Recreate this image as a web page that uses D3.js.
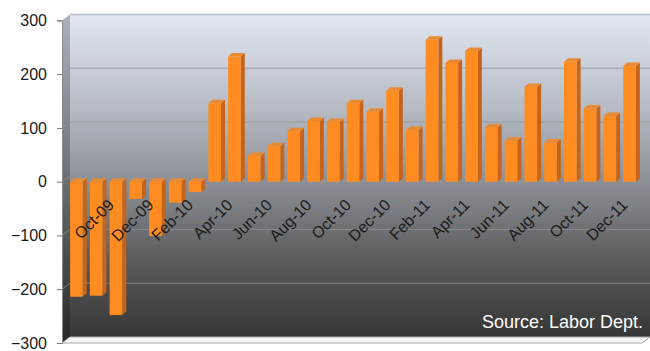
<!DOCTYPE html>
<html>
<head>
<meta charset="utf-8">
<script src="https://cdn.jsdelivr.net/npm/d3@7"></script>
<style>
  body { margin: 0; background: white; }
  svg { display: block; font-family: "Liberation Sans", Arial, sans-serif; }
</style>
</head>
<body>
<div id="chart"></div>
<script>
// monthly job change (thousands), Aug-09 .. Dec-11
const months = ["Aug-09", "Sep-09", "Oct-09", "Nov-09", "Dec-09", "Jan-10", "Feb-10", "Mar-10",
  "Apr-10", "May-10", "Jun-10", "Jul-10", "Aug-10", "Sep-10", "Oct-10", "Nov-10", "Dec-10",
  "Jan-11", "Feb-11", "Mar-11", "Apr-11", "May-11", "Jun-11", "Jul-11", "Aug-11", "Sep-11",
  "Oct-11", "Nov-11", "Dec-11"];
const jobs = [-214, -212, -248, -32, -101, -39, -19, 146, 233, 48, 66, 94, 113, 111, 146,
  130, 169, 96, 264, 221, 243, 101, 76, 176, 73, 223, 136, 122, 215];
const labelled = ["Oct-09", "Dec-09", "Feb-10", "Apr-10", "Jun-10", "Aug-10", "Oct-10", "Dec-10",
  "Feb-11", "Apr-11", "Jun-11", "Aug-11", "Oct-11", "Dec-11"];
const yTicks = [-300, -200, -100, 0, 100, 200, 300];
const source = "Source: Labor Dept.";

let width = 650, height = 351;

let svg = d3.select('#chart')
  .append('svg')
  .attr('width', width)
  .attr('height', height);

// depth of the walls and of the bars
const wallDx = 8, wallDy = 6;
const barDx = 4, barDy = 3.5;

let xScale = d3.scaleBand()
  .domain(months)
  .range([63, 643])
  .padding(0.36);

let yScale = d3.scaleLinear()
  .domain([-300, 300])
  .range([343, 20.4]);

const left = 62, right = 642;
const yTop = yScale(300), yBot = yScale(-300);

// gradients
const defs = svg.append('defs');
const wallGrad = defs.append('linearGradient')
  .attr('id', 'wall').attr('x1', 0).attr('y1', 0).attr('x2', 0).attr('y2', 1);
wallGrad.append('stop').attr('offset', '0%').attr('stop-color', '#e2e8f2');
wallGrad.append('stop').attr('offset', '30%').attr('stop-color', '#b4b9c2');
wallGrad.append('stop').attr('offset', '52%').attr('stop-color', '#8c9096');
wallGrad.append('stop').attr('offset', '75%').attr('stop-color', '#5c5d5f');
wallGrad.append('stop').attr('offset', '100%').attr('stop-color', '#363636');

const sideGrad = defs.append('linearGradient')
  .attr('id', 'side').attr('x1', 0).attr('y1', 0).attr('x2', 0).attr('y2', 1);
sideGrad.append('stop').attr('offset', '0%').attr('stop-color', '#aeb2ba');
sideGrad.append('stop').attr('offset', '50%').attr('stop-color', '#6c6f74');
sideGrad.append('stop').attr('offset', '100%').attr('stop-color', '#262626');

// back wall
svg.append('rect')
  .attr('x', left + wallDx)
  .attr('y', yTop - wallDy)
  .attr('width', right - left)
  .attr('height', yBot - yTop)
  .attr('fill', 'url(#wall)');

svg.append('line')
  .attr('x1', left + wallDx).attr('x2', right + wallDx)
  .attr('y1', yTop - wallDy).attr('y2', yTop - wallDy)
  .attr('stroke', '#b8bcc4').attr('stroke-width', 1.5);

// side wall
svg.append('polygon')
  .attr('points', [[left, yTop], [left + wallDx, yTop - wallDy],
    [left + wallDx, yBot - wallDy], [left, yBot]].join(' '))
  .attr('fill', 'url(#side)');

// floor
svg.append('polygon')
  .attr('points', [[left, yBot], [left + wallDx, yBot - wallDy],
    [right + wallDx, yBot - wallDy], [right, yBot]].join(' '))
  .attr('fill', '#f6f6f6')
  .attr('stroke', '#a8a8a8')
  .attr('stroke-width', 1);

// gridlines on the wall
yTicks.filter(t => t > -300 && t < 300).forEach(t => {
  svg.append('line')
    .attr('x1', left + wallDx).attr('x2', right + wallDx)
    .attr('y1', yScale(t) - wallDy).attr('y2', yScale(t) - wallDy)
    .attr('stroke', '#8e9196').attr('stroke-opacity', 0.75);
  svg.append('line')
    .attr('x1', left).attr('x2', left + wallDx)
    .attr('y1', yScale(t)).attr('y2', yScale(t) - wallDy)
    .attr('stroke', '#8e9196').attr('stroke-opacity', 0.75);
});

// y axis
let yAxis = svg.append('g')
  .attr('transform', `translate(${left},0)`)
  .call(d3.axisLeft(yScale).tickValues(yTicks).tickSize(5).tickPadding(10));
yAxis.selectAll('text')
  .attr('fill', '#1a1a1a')
  .style('font-size', '16px');
yAxis.selectAll('line').attr('stroke', '#777');
yAxis.select('.domain').attr('stroke', '#8a8a8a');

// bars
const w = xScale.bandwidth();
months.forEach((m, i) => {
  const v = jobs[i];
  const x0 = xScale(m);
  const x1 = x0 + w;
  const top = yScale(Math.max(0, v));
  const bot = yScale(Math.min(0, v));

  // right side
  svg.append('polygon')
    .attr('points', [[x1, top], [x1 + barDx, top - barDy], [x1 + barDx, bot - barDy], [x1, bot]].join(' '))
    .attr('fill', '#c5641a');
  // top
  svg.append('polygon')
    .attr('points', [[x0, top], [x0 + barDx, top - barDy], [x1 + barDx, top - barDy], [x1, top]].join(' '))
    .attr('fill', '#e98a35');
  // front
  svg.append('rect')
    .attr('x', x0)
    .attr('y', top)
    .attr('width', w)
    .attr('height', bot - top)
    .attr('fill', '#ff8c21');
});

// month labels, every other month
labelled.forEach(m => {
  const cx = xScale(m) + w / 2 - 1;
  svg.append('text')
    .attr('transform', `translate(${cx},206) rotate(-45)`)
    .attr('text-anchor', 'end')
    .attr('fill', '#1a1a1a')
    .style('font-size', '16px')
    .text(m);
});

// source note
svg.append('text')
  .attr('x', 643)
  .attr('y', 328)
  .attr('text-anchor', 'end')
  .attr('fill', 'white')
  .style('font-size', '18px')
  .text(source);
</script>
</body>
</html>
